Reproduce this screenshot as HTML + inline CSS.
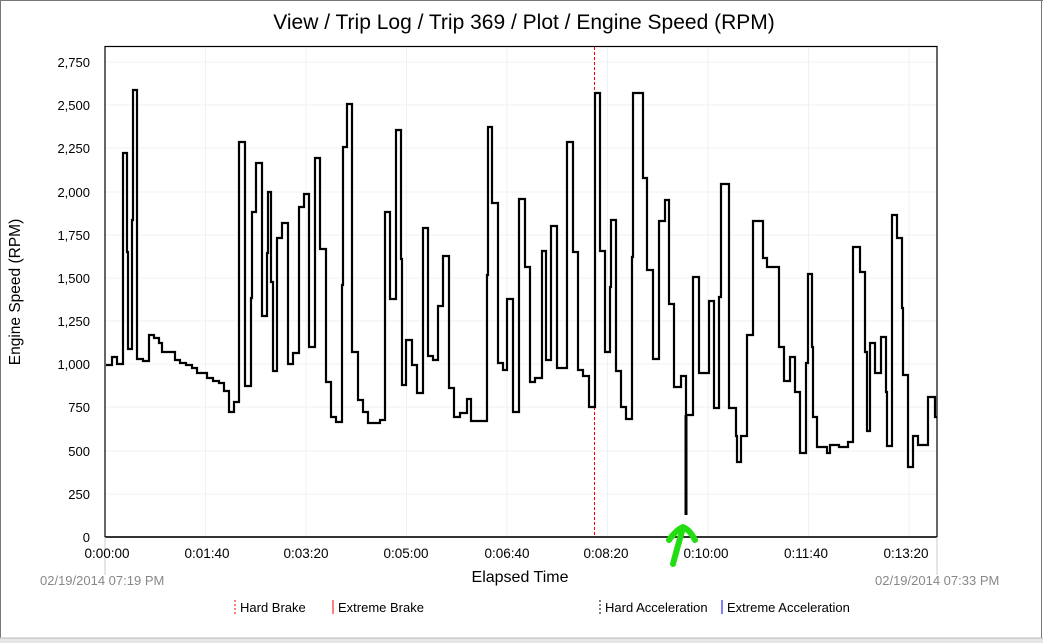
<!DOCTYPE html>
<html><head><meta charset="utf-8"><style>
html,body{margin:0;padding:0;background:#fff;}
svg{display:block;font-family:"Liberation Sans",Arial,sans-serif;}
</style></head><body>
<svg width="1043" height="643" viewBox="0 0 1043 643" xmlns="http://www.w3.org/2000/svg">
<rect x="0" y="0" width="1043" height="643" fill="#fff"/>
<line x1="0.5" y1="0" x2="0.5" y2="638" stroke="#777"/>
<line x1="0" y1="0.5" x2="1043" y2="0.5" stroke="#777"/>
<line x1="1041.5" y1="0" x2="1041.5" y2="638" stroke="#777"/>
<rect x="0" y="638" width="1043" height="5" fill="#e6e6e6"/>
<line x1="0" y1="638" x2="1043" y2="638" stroke="#bbb"/>
<text x="524" y="29" font-size="21" text-anchor="middle" fill="#000">View / Trip Log / Trip 369 / Plot / Engine Speed (RPM)</text>
<g stroke="#eef1f5" stroke-width="1">
<line x1="105" y1="62" x2="937" y2="62"/><line x1="105" y1="105" x2="937" y2="105"/><line x1="105" y1="148" x2="937" y2="148"/><line x1="105" y1="192" x2="937" y2="192"/><line x1="105" y1="235" x2="937" y2="235"/><line x1="105" y1="278" x2="937" y2="278"/><line x1="105" y1="321" x2="937" y2="321"/><line x1="105" y1="364" x2="937" y2="364"/><line x1="105" y1="407" x2="937" y2="407"/><line x1="105" y1="451" x2="937" y2="451"/><line x1="105" y1="494" x2="937" y2="494"/>
<line x1="205.5" y1="46" x2="205.5" y2="537"/><line x1="306" y1="46" x2="306" y2="537"/><line x1="406.5" y1="46" x2="406.5" y2="537"/><line x1="507" y1="46" x2="507" y2="537"/><line x1="607.5" y1="46" x2="607.5" y2="537"/><line x1="708" y1="46" x2="708" y2="537"/><line x1="808.5" y1="46" x2="808.5" y2="537"/><line x1="909" y1="46" x2="909" y2="537"/>
</g>
<rect x="105" y="46.5" width="832" height="490.5" fill="none" stroke="#000" stroke-width="1.2"/>
<line x1="105" y1="537" x2="937" y2="537" stroke="#000" stroke-width="1.5"/>
<g stroke="#ccc"><line x1="105" y1="537" x2="105" y2="575"/><line x1="937" y1="537" x2="937" y2="575"/></g>
<g font-size="13" text-anchor="end" fill="#000">
<text x="90" y="67">2,750</text><text x="90" y="110">2,500</text><text x="90" y="153">2,250</text><text x="90" y="197">2,000</text><text x="90" y="240">1,750</text><text x="90" y="283">1,500</text><text x="90" y="326">1,250</text><text x="90" y="369">1,000</text><text x="90" y="412">750</text><text x="90" y="456">500</text><text x="90" y="499">250</text><text x="90" y="542">0</text>
</g>
<g font-size="13.5" text-anchor="middle" fill="#000">
<text x="107" y="558">0:00:00</text><text x="207" y="558">0:01:40</text><text x="306" y="558">0:03:20</text><text x="406" y="558">0:05:00</text><text x="507" y="558">0:06:40</text><text x="606" y="558">0:08:20</text><text x="706" y="558">0:10:00</text><text x="806" y="558">0:11:40</text><text x="906" y="558">0:13:20</text>
</g>
<text x="520" y="582" font-size="16" text-anchor="middle">Elapsed Time</text>
<text x="20" y="292" font-size="15.5" text-anchor="middle" transform="rotate(-90 20 292)">Engine Speed (RPM)</text>
<text x="40" y="585" font-size="13" fill="#888">02/19/2014 07:19 PM</text>
<text x="875" y="585" font-size="13" fill="#888">02/19/2014 07:33 PM</text>
<g font-size="13">
<line x1="235" y1="600" x2="235" y2="614" stroke="red" stroke-dasharray="2,2"/><text x="240" y="612">Hard Brake</text>
<line x1="333" y1="600" x2="333" y2="614" stroke="red"/><text x="338" y="612">Extreme Brake</text>
<line x1="600" y1="600" x2="600" y2="614" stroke="#000" stroke-dasharray="2,2"/><text x="605" y="612">Hard Acceleration</text>
<line x1="722" y1="600" x2="722" y2="614" stroke="blue"/><text x="727" y="612">Extreme Acceleration</text>
</g>
<line x1="594.5" y1="47" x2="594.5" y2="537" stroke="red" stroke-dasharray="3,2"/>
<path fill="none" stroke="#000" stroke-width="2.2" stroke-linejoin="miter" d="M106 365 H112 V357 H117 V364 H123 V153 H127 V252 H128 V349 H132 V220 H133 V90 H137 V359 H143 V361 H149 V335 H154 V338 H159 V343 H162 V352 H165 H175 V360 H180 V363 H186 V365 H192 V368 H197 V373 H207 V378 H213 V381 H219 V383 H224 V391 H229 V412 H234 V402 H239 V142 H245 V386 H251 V298 H252 V212 H256 V163 H262 V316 H267 V253 H268 V192 H271 V282 H273 V371 H277 V238 H282 V223 H288 V364 H293 V353 H299 V207 H304 V194 H309 V347 H315 V158 H320 V249 H326 V382 H331 V417 H336 V422 H342 V285 H343 V147 H347 V104 H352 V352 H358 V400 H363 V412 H368 V423 H380 V420 H385 V212 H390 V299 H396 V130 H401 V259 H402 V385 H406 V340 H412 V365 H417 V393 H423 V228 H428 V356 H433 V360 H438 V306 H443 V256 H449 V388 H454 V417 H460 V413 H467 V399 H471 V421 H487 V275 H488 V127 H492 V167 V203 H498 V363 H503 V370 H507 V299 H513 V412 H519 V199 H525 V267 H530 V382 H535 V378 H542 V251 H546 V360 H551 V226 H557 V368 H567 V142 H573 V252 H578 V370 H583 V376 H589 V407 H595 V93 H600 V251 H605 V352 H610 V287 H611 V220 H616 V371 H621 V407 H626 V419 H632 V257 H633 V93 H643 V178 H647 V270 H653 V359 H659 V221 H665 V200 H669 V304 H674 V387 H681 V376 H686 V515 V415 H688 H693 V277 H699 V373 H709 V301 H714 V408 H719 V297 H721 V184 H729 V408 H736 V436 H737 V462 H741 V436 H747 V335 H753 V221 H763 V258 H767 V267 H779 V347 H784 V381 H790 V357 H795 V392 H800 V453 H806 V363 H808 V274 H812 V347 H813 V417 H817 V447 H827 V453 H830 V445 H839 V447 H848 V442 H853 V247 H860 V272 H865 V352 H867 V431 H870 V343 H875 V373 H881 V337 H886 V392 H887 V446 H892 V215 H897 V238 H902 V308 H903 V375 H908 V467 H913 V436 H918 V445 H928 V397 H935 V417 H937"/>
<line x1="686" y1="415" x2="686" y2="515" stroke="#000" stroke-width="3"/>
<g fill="none" stroke="#22dd11" stroke-width="6" stroke-linecap="round" stroke-linejoin="round">
<path d="M669 540 Q676 530 683 527 Q690 530 695 540"/>
<path d="M683 528 Q678 545 673 564"/>
</g>
</svg>
</body></html>
